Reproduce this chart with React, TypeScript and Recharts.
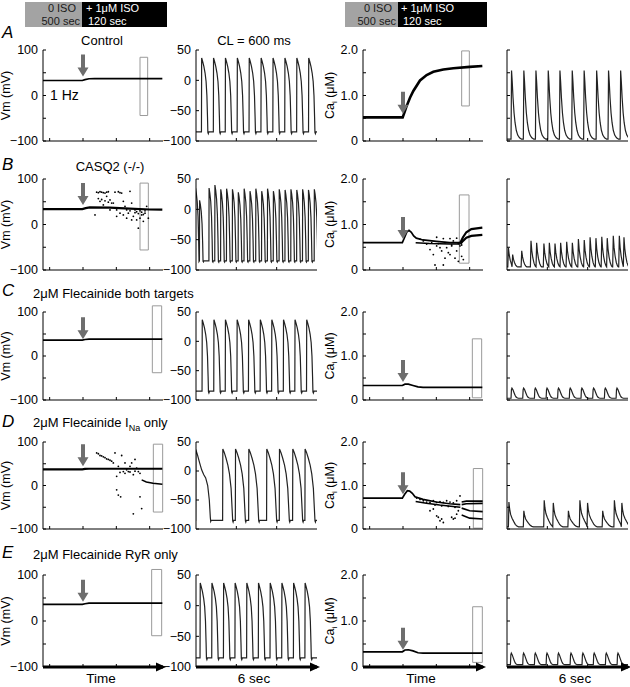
import React from 'react';
import { ComposedChart, Line, Scatter, XAxis, YAxis, ReferenceArea, ReferenceDot } from 'recharts';

const FONT = '"Liberation Sans", Arial, Helvetica, sans-serif';

// plot boxes of the 4 columns and 5 rows (px)
const colX = [43, 196, 363, 507];
const colW = [120, 121, 120, 121];
const rowY = [50, 179, 312, 442, 575];
const rowH = [91, 91, 88, 87, 92];

// ---------- time course panels (s) ----------
const courseDomain = [380, 740];
const courseTicks = [400, 500, 600, 700];
const isoOnset = 500;

// peak Vm (mV) over time
const vmCourseA = [[380, 33], [498, 33], [506, 35], [518, 36.8], [535, 37], [738, 37]];
const vmCourseB = [[380, 34], [498, 34], [508, 36], [520, 37.5], [580, 37], [640, 35], [700, 33], [738, 32.5]];
const vmCourseC = [[380, 36], [498, 36], [506, 37.5], [518, 38.5], [738, 38.5]];
const vmCourseD = [[380, 37], [498, 37], [506, 38], [518, 38.5], [738, 38.5]];
const vmCourseDBranch = [[676, 13], [690, 8], [710, 5], [738, 3]];
const vmCourseE = [[380, 36], [498, 36], [506, 37.5], [518, 39], [738, 39]];

const vmDotsB = [
  [536, 21], [541, 71], [546, 70], [551, 72], [556, 71], [561, 70], [566, 69], [571, 71], [576, 72],
  [551, 51], [546, 57], [556, 55], [566, 52], [576, 49], [586, 47], [571, 62], [581, 54], [591, 47],
  [601, 32], [611, 25], [616, 69], [621, 51], [626, 40], [631, 32], [636, 25], [641, 73], [646, 47],
  [651, 18], [656, 32], [661, 10], [666, -8], [671, 14], [676, 21], [681, 7], [686, 25], [691, 40],
  [696, 14], [601, 18], [581, 32], [561, 43], [646, 10], [631, 14], [621, 21], [596, 71], [606, 72],
  [611, 70], [661, 28], [666, 24], [671, 30], [676, 27], [681, 22], [656, 26], [641, 30], [686, 30],
];
const vmDotsD = [
  [541, 75], [546, 73], [551, 69], [556, 68], [561, 66], [566, 64], [571, 61], [576, 60], [581, 58],
  [586, 56], [591, 52], [596, 75], [606, 44], [616, 69], [621, 32], [626, 52], [601, 21], [601, -10],
  [606, -22], [613, -26], [631, 36], [641, 44], [646, 52], [656, 60], [661, 40], [666, 32], [671, 28],
  [671, -26], [676, -53], [651, -65], [636, 32], [651, 25], [611, 30], [626, 28], [641, 31], [656, 33],
];

// Ca_i (uM) over time
const caCourseA = [[380, 0.52], [499, 0.52], [505, 0.64], [510, 0.75], [521, 0.95], [531, 1.1], [551, 1.33], [571, 1.45], [591, 1.52], [621, 1.57], [651, 1.6], [700, 1.63], [738, 1.65]];
const caCourseB = [[380, 0.6], [498, 0.6], [505, 0.72], [512, 0.84], [518, 0.87], [525, 0.83], [532, 0.75], [540, 0.7], [560, 0.66], [600, 0.63], [640, 0.6], [672, 0.6]];
const caCourseBLow = [[538, 0.6], [580, 0.58], [640, 0.57], [672, 0.57]];
const caCourseBEnd1 = [[672, 0.6], [680, 0.72], [690, 0.83], [705, 0.9], [738, 0.93]];
const caCourseBEnd2 = [[672, 0.57], [680, 0.64], [690, 0.71], [705, 0.75], [738, 0.77]];
const caDotsB = [
  [551, 0.68], [561, 0.64], [571, 0.57], [581, 0.45], [591, 0.34], [596, 0.11], [601, 0.53], [611, 0.49],
  [616, 0.42], [621, 0.11], [626, 0.26], [631, 0.49], [636, 0.38], [641, 0.34], [646, 0.53], [651, 0.64],
  [656, 0.26], [661, 0.42], [666, 0.19], [671, 0.53], [676, 0.3], [681, 0.23], [601, 0.72], [621, 0.69],
  [641, 0.69], [661, 0.7], [586, 0.6], [606, 0.58], [626, 0.6], [646, 0.55], [666, 0.58], [676, 0.55],
];
const caCourseC = [[380, 0.33], [498, 0.33], [506, 0.36], [516, 0.36], [530, 0.33], [545, 0.3], [560, 0.285], [738, 0.285]];
const caCourseD = [[380, 0.71], [498, 0.71], [505, 0.8], [513, 0.88], [520, 0.87], [528, 0.82], [536, 0.74], [560, 0.68], [600, 0.62], [640, 0.58], [672, 0.56]];
const caCourseDLow = [[538, 0.63], [570, 0.59], [610, 0.55], [650, 0.52], [672, 0.5]];
const caCourseDEnd1 = [[676, 0.62], [690, 0.64], [739, 0.64]];
const caCourseDEnd2 = [[676, 0.56], [690, 0.58], [739, 0.59]];
const caCourseDEnd3 = [[676, 0.48], [700, 0.42], [739, 0.4]];
const caCourseDEnd4 = [[676, 0.32], [700, 0.25], [739, 0.23]];
const caDotsD = [
  [541, 0.71], [551, 0.68], [561, 0.65], [571, 0.62], [581, 0.61], [591, 0.65], [601, 0.61], [611, 0.63],
  [621, 0.61], [631, 0.65], [641, 0.62], [651, 0.6], [661, 0.65], [671, 0.76], [601, 0.3], [606, 0.27],
  [611, 0.19], [616, 0.23], [621, 0.15], [646, 0.27], [651, 0.23], [656, 0.25], [661, 0.34], [666, 0.42],
  [581, 0.42], [591, 0.46], [596, 0.55], [616, 0.53], [636, 0.52], [656, 0.5],
];
const caCourseE = [[380, 0.33], [498, 0.33], [506, 0.37], [516, 0.375], [530, 0.35], [545, 0.31], [560, 0.3], [738, 0.3]];

// gray boxes [t1, t2, y1, y2] and arrow tips
const vmBoxes = [[671, 694, -44, 84], [671, 696, -56, 91], [708, 736, -38, 114], [711, 739, -61, 95], [706, 736, -32, 112]];
const caBoxes = [[676, 699, 0.77, 1.98], [669, 698, 0.15, 1.65], [708, 736, 0.05, 1.39], [711, 739, 0.02, 1.39], [709, 738, 0.1, 1.31]];
const vmArrowTips = [42, 43, 38, 44, 42];
const caArrowTips = [0.6, 0.68, 0.41, 0.8, 0.375];

// ---------- 6 s traces ----------
const traceDomain = [0, 6];
const traceTicks = [2, 4];

// action potential waveforms [ms after upstroke, mV]
const apShape = [[0, -85], [10, 37], [60, 31], [120, 23], [180, 12], [230, -2], [270, -25], [300, -60], [318, -86], [340, -88], [370, -85]];
const apShapeB = [[0, -85], [8, 34], [45, 26], [90, 12], [130, -12], [160, -50], [180, -86], [200, -87], [215, -85]];
const apShapeD = [[0, -85], [10, 38], [80, 32], [170, 22], [260, 10], [340, -5], [420, -30], [470, -65], [500, -86], [520, -88], [545, -85]];
const apShapeDLong = [[0, -85], [10, 37], [100, 27], [200, 14], [300, 2], [400, -6], [500, -12], [600, -25], [680, -50], [730, -80], [750, -87], [780, -85]];

const vmBeatsA = [0.27, 0.86, 1.45, 2.04, 2.63, 3.22, 3.81, 4.4, 4.99, 5.58];
const vmBeatsB = [-0.03, 0.17, 0.64, 0.93, 1.22, 1.51, 1.8, 2.09, 2.38, 2.67, 2.96, 3.25, 3.54, 3.83, 4.12, 4.41, 4.7, 4.99, 5.28, 5.57, 5.86];
const vmPeaksB = [35, 15, 35, 40, 33, 34, 33, 28, 34, 30, 34, 30, 34, 30, 33, 32, 33, 32, 33, 32, 33];
const vmBeatsC = [0.3, 0.88, 1.45, 2.03, 2.6, 3.18, 3.75, 4.33, 4.9, 5.48];
const vmBeatsD = [-0.02, 1.32, 1.95, 2.61, 3.5, 4.13, 4.79, 5.4];
const vmBeatsE = [0.2, 0.78, 1.36, 1.93, 2.51, 3.09, 3.67, 4.25, 4.83, 5.4];

// Ca transient waveforms [ms after onset, fraction of peak]
const caShape = [[0, 0], [25, 1], [60, 0.83], [100, 0.6], [150, 0.38], [200, 0.24], [260, 0.13], [330, 0.06], [420, 0.02], [520, 0]];
const caShapeSmall = [[0, 0], [20, 0.85], [45, 1], [90, 0.85], [150, 0.55], [200, 0.3], [250, 0.12], [300, 0.04], [360, 0]];
const caShapeB = [[0, 0], [30, 1], [70, 0.62], [120, 0.35], [180, 0.14], [240, 0.03], [280, 0]];
const caShapeD = [[0, 0], [25, 1], [60, 0.72], [110, 0.5], [180, 0.35], [260, 0.22], [340, 0.1], [420, 0.03], [500, 0]];

const caBeatsA = [0.2, 0.81, 1.41, 2.02, 2.6, 3.21, 3.8, 4.42, 5.01, 5.61];
const caPeaksA = [1.55, 1.55, 1.55, 1.55, 1.55, 1.55, 1.55, 1.55, 1.55, 1.55];
const caBeatsB = [0.04, 0.25, 0.7, 1.16, 1.44, 1.8, 2.07, 2.35, 2.63, 2.93, 3.21, 3.51, 3.8, 4.09, 4.38, 4.67, 4.94, 5.24, 5.54, 5.77];
const caPeaksB = [0.49, 0.34, 0.42, 0.64, 0.6, 0.58, 0.6, 0.58, 0.6, 0.62, 0.6, 0.68, 0.66, 0.72, 0.7, 0.73, 0.7, 0.75, 0.75, 0.72];
const caBeatsC = [0.2, 0.78, 1.36, 1.94, 2.51, 3.09, 3.67, 4.25, 4.83, 5.41];
const caPeaksC = [0.27, 0.27, 0.27, 0.27, 0.27, 0.27, 0.27, 0.27, 0.27, 0.27];
const caBeatsD = [0.07, 0.81, 1.82, 2.27, 3.02, 3.59, 3.97, 4.72, 5.3, 5.67];
const caPeaksD = [0.62, 0.42, 0.66, 0.6, 0.42, 0.66, 0.6, 0.42, 0.66, 0.6];
const caBeatsE = [0.17, 0.78, 1.36, 1.94, 2.51, 3.13, 3.72, 4.28, 4.88, 5.46];
const caPeaksE = [0.3, 0.3, 0.3, 0.3, 0.3, 0.3, 0.3, 0.3, 0.3, 0.3];

type Pt = { t: number; v: number };
const pts = (a: number[][]): Pt[] => a.map(([t, v]) => ({ t, v }));

function vmTrain(onsets: number[], shape: number[][], peaks?: number[], firstShape?: number[][]): Pt[] {
  const rest = shape[0][1];
  const top = Math.max(...shape.map((s) => s[1]));
  const out: Pt[] = [{ t: -1, v: rest }];
  onsets.forEach((b, i) => {
    const k = peaks ? (peaks[i] - rest) / (top - rest) : 1;
    const next = onsets[i + 1] ?? 99;
    const sh = i === 0 && firstShape ? firstShape : shape;
    sh.forEach(([ms, v]) => {
      const t = b + ms / 1000;
      if (t < next) out.push({ t, v: rest + (v - rest) * k });
    });
  });
  out.push({ t: 7, v: rest });
  return out;
}

function caTrain(onsets: number[], shape: number[][], base: number, peaks: number[]): Pt[] {
  const out: Pt[] = [{ t: -1, v: base }];
  onsets.forEach((b, i) => {
    const next = onsets[i + 1] ?? 99;
    shape.forEach(([ms, s]) => {
      const t = b + ms / 1000;
      if (t < next) out.push({ t, v: base + s * (peaks[i] - base) });
    });
  });
  out.push({ t: 7, v: base });
  return out;
}

const minus = (v: number) => String(v).replace('-', '\u2212');
const fmtVmCourse = (v: number) => (v === 100 || v === 0 || v === -100 ? minus(v) : '');
const fmtVmTrace = (v: number) => minus(v);
const fmtCa = (v: number) => (v === 0 ? '0' : v === 1 ? '1.0' : v === 2 ? '2.0' : '');
const fmtNone = () => '';

const DownArrow = ({ cx, cy }: any) => (
  <path d={`M${cx - 2},${cy - 22} h4 v13 h3.5 l-5.5,9 l-5.5,-9 h3.5 z`} fill="#6e6e6e" />
);
const RightHead = ({ cx, cy }: any) => <path d={`M${cx + 3},${cy} l-10,-4.5 v9 z`} fill="#000" />;
const Dot = ({ cx, cy }: any) => <circle cx={cx} cy={cy} r={0.9} fill="#000" />;

type LineSpec = { pts: Pt[]; w: number; color?: string };
type PanelProps = {
  col: number;
  row: number;
  xDomain: number[];
  xTicks: number[];
  yDomain: number[];
  yTicks: number[];
  fmt: (v: number) => string;
  lines: LineSpec[];
  dots?: Pt[];
  box?: number[];
  arrowTip?: number;
  timeArrow?: boolean;
};

function Panel({ col, row, xDomain, xTicks, yDomain, yTicks, fmt, lines, dots, box, arrowTip, timeArrow }: PanelProps) {
  const ml = 45, mt = 14, mb = 6, mr = 8;
  const w = colW[col], h = rowH[row];
  return (
    <div style={{ position: 'absolute', left: colX[col] - ml, top: rowY[row] - mt }}>
      <ComposedChart width={w + ml + mr} height={h + mt + mb} margin={{ top: mt, right: mr, bottom: 0, left: 0 }}>
        <XAxis
          type="number"
          dataKey="t"
          domain={xDomain}
          ticks={xTicks}
          allowDataOverflow
          height={mb}
          tickSize={-3}
          tickFormatter={fmtNone}
          axisLine={{ stroke: '#000', strokeWidth: timeArrow ? 3 : 1 }}
          tickLine={{ stroke: '#000' }}
        />
        <YAxis
          type="number"
          dataKey="v"
          domain={yDomain}
          ticks={yTicks}
          interval={0}
          allowDataOverflow
          width={ml}
          tickSize={-3}
          tickMargin={8}
          tickFormatter={fmt}
          tick={{ fontSize: 12.5, fill: '#000', fontFamily: FONT }}
          axisLine={{ stroke: '#000' }}
          tickLine={{ stroke: '#000' }}
        />
        {box && (
          <ReferenceArea x1={box[0]} x2={box[1]} y1={box[2]} y2={box[3]} fill="none" stroke="#9a9a9a" strokeWidth={1} ifOverflow="visible" />
        )}
        {lines.map((l, i) => (
          <Line
            key={i}
            data={l.pts}
            dataKey="v"
            type="linear"
            dot={false}
            stroke={l.color ?? '#000'}
            strokeWidth={l.w}
            isAnimationActive={false}
          />
        ))}
        {dots && <Scatter data={dots} dataKey="v" shape={Dot} isAnimationActive={false} />}
        {arrowTip !== undefined && (
          <ReferenceDot x={isoOnset} y={arrowTip} r={0} ifOverflow="visible" shape={(p: any) => <DownArrow cx={p.cx} cy={p.cy} />} />
        )}
        {timeArrow && (
          <ReferenceDot x={xDomain[1]} y={yDomain[0]} r={0} ifOverflow="visible" shape={(p: any) => <RightHead cx={p.cx} cy={p.cy} />} />
        )}
      </ComposedChart>
    </div>
  );
}

const vmCourses = [vmCourseA, vmCourseB, vmCourseC, vmCourseD, vmCourseE];
const caCourses = [caCourseA, caCourseB, caCourseC, caCourseD, caCourseE];

const vmTraces = [
  vmTrain(vmBeatsA, apShape),
  vmTrain(vmBeatsB, apShapeB, vmPeaksB),
  vmTrain(vmBeatsC, apShape),
  vmTrain(vmBeatsD, apShapeD, undefined, apShapeDLong),
  vmTrain(vmBeatsE, apShape),
];
const caTraces = [
  caTrain(caBeatsA, caShape, 0.04, caPeaksA),
  caTrain(caBeatsB, caShapeB, 0.07, caPeaksB),
  caTrain(caBeatsC, caShapeSmall, 0.04, caPeaksC),
  caTrain(caBeatsD, caShapeD, 0.05, caPeaksD),
  caTrain(caBeatsE, caShapeSmall, 0.05, caPeaksE),
];

const vmExtraLines: LineSpec[][] = [[], [], [], [{ pts: pts(vmCourseDBranch), w: 1.5 }], []];
const caExtraLines: LineSpec[][] = [
  [],
  [{ pts: pts(caCourseBLow), w: 1.5 }, { pts: pts(caCourseBEnd1), w: 2.2 }, { pts: pts(caCourseBEnd2), w: 2.2 }],
  [],
  [
    { pts: pts(caCourseDLow), w: 1.5 },
    { pts: pts(caCourseDEnd1), w: 1.6 },
    { pts: pts(caCourseDEnd2), w: 1.6 },
    { pts: pts(caCourseDEnd3), w: 1.6 },
    { pts: pts(caCourseDEnd4), w: 1.6 },
  ],
  [],
];
const vmDots = [undefined, pts(vmDotsB), undefined, pts(vmDotsD), undefined];
const caDots = [undefined, pts(caDotsB), undefined, pts(caDotsD), undefined];

const letters = ['A', 'B', 'C', 'D', 'E'];
const letterY = [38, 170, 296, 427, 558];
const titleY = [45, 171, 298, 427, 559];

function Header({ x0, xSplit, x1, tx }: { x0: number; xSplit: number; x1: number; tx: number[] }) {
  return (
    <g fontFamily={FONT} fontSize={11}>
      <rect x={x0} y={2} width={xSplit - x0} height={25} fill="#a3a3a3" />
      <rect x={xSplit} y={2} width={x1 - xSplit} height={25} fill="#000" />
      <text x={xSplit - 6} y={11.5} textAnchor="end" fill="#1a1a1a">0 ISO</text>
      <text x={xSplit - 2} y={24.5} textAnchor="end" fill="#1a1a1a">500 sec</text>
      <text x={tx[0]} y={11.5} fill="#fff">+ 1μM ISO</text>
      <text x={tx[1]} y={24.5} fill="#fff">120 sec</text>
    </g>
  );
}

export default function App() {
  return (
    <div style={{ position: 'absolute', left: 0, top: 0, width: 630, height: 687, background: '#fff', overflow: 'hidden' }}>
      {rowY.map((_, r) => (
        <React.Fragment key={r}>
          <Panel
            col={0}
            row={r}
            xDomain={courseDomain}
            xTicks={courseTicks}
            yDomain={[-100, 100]}
            yTicks={[-100, -50, 0, 50, 100]}
            fmt={fmtVmCourse}
            lines={[{ pts: pts(vmCourses[r]), w: r === 1 || r === 3 ? 2.2 : 1.7 }, ...vmExtraLines[r]]}
            dots={vmDots[r]}
            box={vmBoxes[r]}
            arrowTip={vmArrowTips[r]}
            timeArrow={r === 4}
          />
          <Panel
            col={1}
            row={r}
            xDomain={traceDomain}
            xTicks={traceTicks}
            yDomain={[-100, 50]}
            yTicks={[-100, -50, 0, 50]}
            fmt={fmtVmTrace}
            lines={[{ pts: vmTraces[r], w: 1.2, color: '#222' }]}
            timeArrow={r === 4}
          />
          <Panel
            col={2}
            row={r}
            xDomain={courseDomain}
            xTicks={courseTicks}
            yDomain={[0, 2]}
            yTicks={[0, 0.5, 1, 1.5, 2]}
            fmt={fmtCa}
            lines={[{ pts: pts(caCourses[r]), w: r === 0 ? 2.6 : 1.7 }, ...caExtraLines[r]]}
            dots={caDots[r]}
            box={caBoxes[r]}
            arrowTip={caArrowTips[r]}
            timeArrow={r === 4}
          />
          <Panel
            col={3}
            row={r}
            xDomain={traceDomain}
            xTicks={traceTicks}
            yDomain={[0, 2]}
            yTicks={[0, 0.5, 1, 1.5, 2]}
            fmt={fmtNone}
            lines={[{ pts: caTraces[r], w: 1.2, color: '#222' }]}
            timeArrow={r === 4}
          />
        </React.Fragment>
      ))}
      <svg width={630} height={687} style={{ position: 'absolute', left: 0, top: 0, pointerEvents: 'none' }}>
        <Header x0={25} xSplit={82} x1={167} tx={[86, 88]} />
        <Header x0={345} xSplit={398} x1={487} tx={[401, 403]} />
        <g fontFamily={FONT} fill="#000">
          {letters.map((l, i) => (
            <text key={l} x={2} y={letterY[i]} fontSize={17} fontStyle="italic">{l}</text>
          ))}
          <text x={102} y={titleY[0]} fontSize={13} textAnchor="middle">Control</text>
          <text x={254} y={titleY[0]} fontSize={13} textAnchor="middle">CL = 600 ms</text>
          <text x={110} y={titleY[1]} fontSize={13} textAnchor="middle">CASQ2 (-/-)</text>
          <text x={33} y={titleY[2]} fontSize={13}>2μM Flecainide both targets</text>
          <text x={33} y={titleY[3]} fontSize={13}>
            2μM Flecainide I<tspan fontSize={9} dy={4}>Na</tspan>
            <tspan dy={-4}> only</tspan>
          </text>
          <text x={33} y={titleY[4]} fontSize={13}>2μM Flecainide RyR only</text>
          <text x={50} y={100} fontSize={14}>1 Hz</text>
          {rowY.map((y, r) => (
            <React.Fragment key={r}>
              <text transform={`translate(10,${y + rowH[r] / 2}) rotate(-90)`} fontSize={12.5} textAnchor="middle">Vm (mV)</text>
              <text transform={`translate(334,${y + rowH[r] / 2}) rotate(-90)`} fontSize={12.5} textAnchor="middle">
                Ca<tspan fontSize={8} dy={3}>i</tspan>
                <tspan dy={-3}> (μM)</tspan>
              </text>
            </React.Fragment>
          ))}
          <text x={101} y={683} fontSize={13.5} textAnchor="middle">Time</text>
          <text x={254} y={683} fontSize={13.5} textAnchor="middle">6 sec</text>
          <text x={421} y={683} fontSize={13.5} textAnchor="middle">Time</text>
          <text x={575} y={683} fontSize={13.5} textAnchor="middle">6 sec</text>
        </g>
      </svg>
    </div>
  );
}
